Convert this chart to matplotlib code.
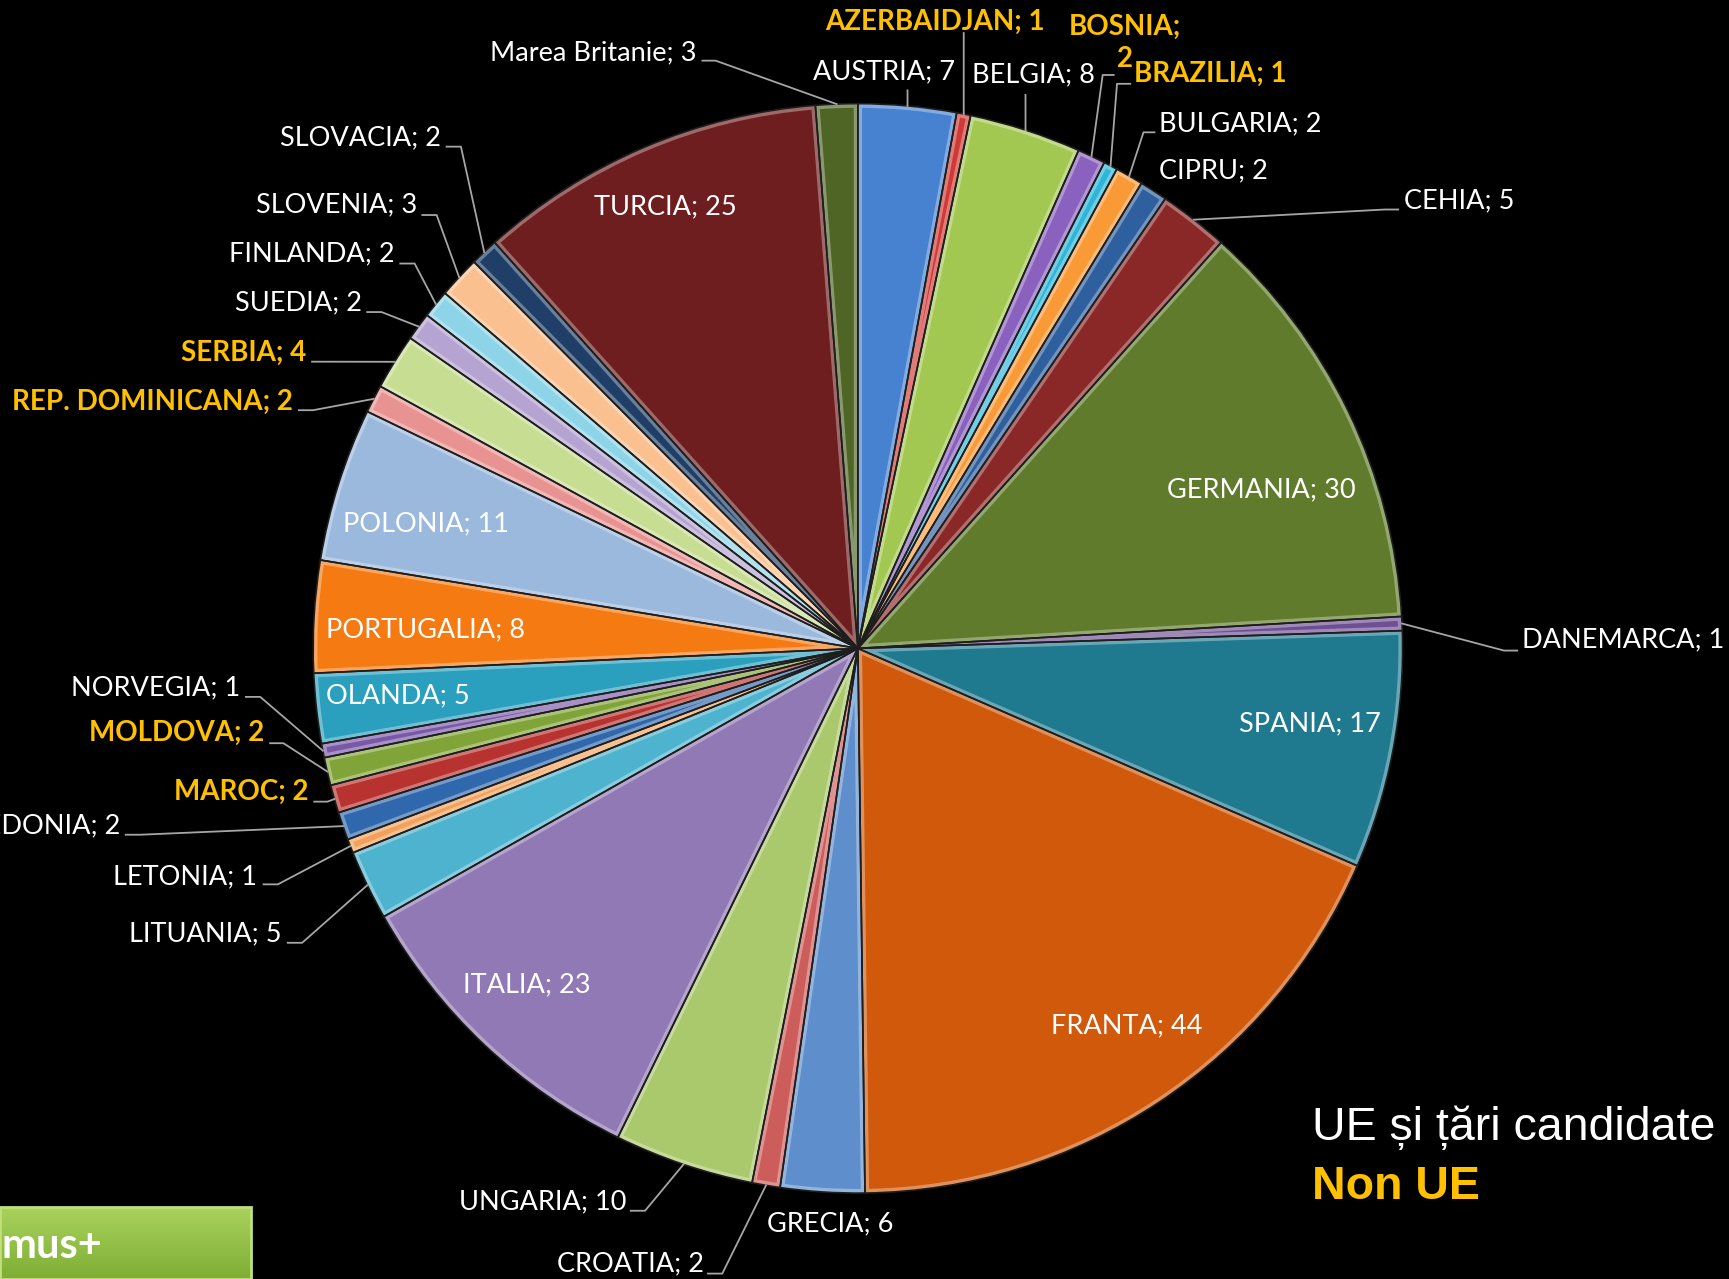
import matplotlib
matplotlib.use('Agg')
import matplotlib.pyplot as plt
from matplotlib.patches import Rectangle, Wedge
from matplotlib.colors import to_rgb, LinearSegmentedColormap
import numpy as np

# date: mobilitati pe tari (in ordinea din grafic, in sensul acelor de ceas)
tari = ['AUSTRIA', 'AZERBAIDJAN', 'BELGIA', 'BOSNIA', 'BRAZILIA', 'BULGARIA', 'CIPRU', 'CEHIA',
        'GERMANIA', 'DANEMARCA', 'SPANIA', 'FRANTA', 'GRECIA', 'CROATIA', 'UNGARIA', 'ITALIA',
        'LITUANIA', 'LETONIA', 'MACEDONIA', 'MAROC', 'MOLDOVA', 'NORVEGIA', 'OLANDA', 'PORTUGALIA',
        'POLONIA', 'REP. DOMINICANA', 'SERBIA', 'SUEDIA', 'FINLANDA', 'SLOVENIA', 'SLOVACIA',
        'TURCIA', 'Marea Britanie']
mobilitati = [7, 1, 8, 2, 1, 2, 2, 5, 30, 1, 17, 44, 6, 2, 10, 23,
              5, 1, 2, 2, 2, 1, 5, 8, 11, 2, 4, 2, 2, 3, 2, 25, 3]
non_ue = ['AZERBAIDJAN', 'BOSNIA', 'BRAZILIA', 'MAROC', 'MOLDOVA', 'REP. DOMINICANA', 'SERBIA']

culori = ['#4782D0', '#D03A36', '#A2C852', '#8A61BE', '#2DB6D8', '#F99A37', '#2E5F9E', '#8A2727',
          '#5F7B2B', '#6E4F93', '#1F7A90', '#D0590C', '#5E8ECB', '#CC5D5A', '#A9C96C', '#9079B5',
          '#4DB3CE', '#F2A05A', '#3068AE', '#B8322F', '#80A437', '#7A58A8', '#2A9FBE', '#F57A12',
          '#9BB8DD', '#E89391', '#C6DD92', '#B5A3D1', '#8DD4E8', '#FAC08F', '#1F3F68', '#6E1E1E',
          '#4E6526']

# pozitiile etichetelor (pixeli in imaginea de referinta micsorata)
poz = {
    'Marea Britanie': (632, 48, 'right'), 'AUSTRIA': (802, 65, 'center'),
    'AZERBAIDJAN': (848, 20, 'center'), 'BELGIA': (937, 68, 'center'),
    'BOSNIA': (1020, 39, 'center'), 'BRAZILIA': (1028, 67, 'left'),
    'BULGARIA': (1051, 112, 'left'), 'CIPRU': (1051, 155, 'left'),
    'CEHIA': (1273, 182, 'left'), 'GERMANIA': (1144, 444, 'center'),
    'DANEMARCA': (1380, 580, 'left'), 'SPANIA': (1188, 656, 'center'),
    'FRANTA': (1022, 930, 'center'), 'GRECIA': (696, 1110, 'left'),
    'CROATIA': (638, 1146, 'right'), 'UNGARIA': (568, 1090, 'right'),
    'ITALIA': (478, 893, 'center'), 'LITUANIA': (255, 847, 'right'),
    'LETONIA': (233, 795, 'right'), 'MACEDONIA': (109, 749, 'right'),
    'MAROC': (280, 718, 'right'), 'MOLDOVA': (240, 665, 'right'),
    'NORVEGIA': (218, 624, 'right'), 'OLANDA': (361, 631, 'center'),
    'PORTUGALIA': (386, 571, 'center'), 'POLONIA': (386, 475, 'center'),
    'REP. DOMINICANA': (266, 364, 'right'), 'SERBIA': (278, 320, 'right'),
    'SUEDIA': (328, 275, 'right'), 'FINLANDA': (358, 230, 'right'),
    'SLOVENIA': (378, 186, 'right'), 'SLOVACIA': (400, 125, 'right'),
    'TURCIA': (603, 188, 'center'),
}
# inceputul liniilor de legatura
ancora = {
    'Marea Britanie': [(637, 55), (649, 55)], 'AUSTRIA': [(823, 82)],
    'AZERBAIDJAN': [(874, 30)], 'BELGIA': [(930, 86)],
    'BOSNIA': [(1010, 68), (1000, 68)], 'BRAZILIA': [(1025, 76), (1013, 76)],
    'BULGARIA': [(1047, 120), (1037, 120)], 'CEHIA': [(1268, 190), (1256, 190)],
    'DANEMARCA': [(1376, 590), (1364, 590)], 'CROATIA': [(642, 1155), (655, 1155)],
    'UNGARIA': [(572, 1098), (585, 1098)], 'LITUANIA': [(261, 855), (274, 855)],
    'LETONIA': [(239, 802), (252, 802)], 'MACEDONIA': [(114, 757), (127, 757)],
    'MAROC': [(285, 727), (297, 727)], 'MOLDOVA': [(245, 674), (257, 674)],
    'NORVEGIA': [(223, 632), (236, 632)], 'REP. DOMINICANA': [(271, 372), (284, 372)],
    'SERBIA': [(283, 328)], 'SUEDIA': [(333, 283), (346, 283)],
    'FINLANDA': [(363, 239), (376, 239)], 'SLOVENIA': [(383, 195), (396, 195)],
    'SLOVACIA': [(405, 133), (418, 133)],
}

W, H = 1729, 1279
k = W / 1568.0

def px(x, y):
    return x * k, H - y * k

def deschis(c, f):
    c = np.array(to_rgb(c))
    return tuple(c + (1 - c) * f)

fig = plt.figure(figsize=(W / 100, H / 100), dpi=100, facecolor='black')
ax = fig.add_axes([0, 0, 1, 1])
ax.set_facecolor('black')

cx, cy = px(778, 588)
r = 494 * k
felii, _ = ax.pie(mobilitati, colors=culori, startangle=90, counterclock=False,
                  center=(cx, cy), radius=r,
                  wedgeprops=dict(edgecolor='none', linewidth=0))

# efect de bevel: margine interioara mai deschisa
for w, c in zip(felii, culori):
    hl = Wedge(w.center, w.r, w.theta1, w.theta2, facecolor='none',
               edgecolor=deschis(c, 0.45), lw=6, alpha=0.75, zorder=2)
    hl.set_clip_path(w)
    ax.add_patch(hl)
    ax.add_patch(Wedge(w.center, w.r, w.theta1, w.theta2, facecolor='none',
                       edgecolor='#1E1E1E', lw=1.2, zorder=3))

for felie, tara, val in zip(felii, tari, mobilitati):
    x, y, ha = poz[tara]
    tx, ty = px(x, y)
    text = f'{tara}; {val}'
    if tara == 'BOSNIA':
        text = f'{tara};\n{val}'
    if tara in non_ue:
        ax.text(tx, ty, text, ha=ha, va='center', color='#FFC000', fontsize=20,
                fontweight='bold', family='Lato', linespacing=1.3, zorder=5)
    else:
        ax.text(tx, ty, text, ha=ha, va='center', color='white', fontsize=19.5,
                family='Lato', zorder=5)
    if tara in ancora:
        ung = np.deg2rad((felie.theta1 + felie.theta2) / 2)
        ex, ey = cx + r * np.cos(ung), cy + r * np.sin(ung)
        pts = [px(a, b) for a, b in ancora[tara]] + [(ex, ey)]
        pts = np.array(pts)
        ax.plot(pts[:, 0], pts[:, 1], color='#A6A6A6', lw=1.3, zorder=4)

# legenda
ax.text(1312, H - 1128, 'UE și țări candidate', color='white', fontsize=33.5,
        family='Liberation Sans', va='center')
ax.text(1312, H - 1187, 'Non UE', color='#FFC000', fontsize=33.5, fontweight='bold',
        family='Liberation Sans', va='center')

# caseta Erasmus+
grad = np.linspace(1, 0, 50).reshape(-1, 1)
cmap = LinearSegmentedColormap.from_list('verde', ['#7FAE35', '#A9D25C'])
ax.imshow(grad, cmap=cmap, extent=(0, 251, 0, H - 1207), aspect='auto', zorder=1)
ax.add_patch(Rectangle((0, 0), 251, H - 1207, facecolor='none', edgecolor='#BFE07A', lw=2, zorder=2))
ax.text(2, H - 1246, 'mus+', color='white', fontsize=30, fontweight='bold',
        family='Lato', va='center', zorder=5)

ax.set_xlim(0, W)
ax.set_ylim(0, H)
ax.set_aspect('equal')
ax.axis('off')

fig.savefig('out.png', dpi=100, facecolor='black')
